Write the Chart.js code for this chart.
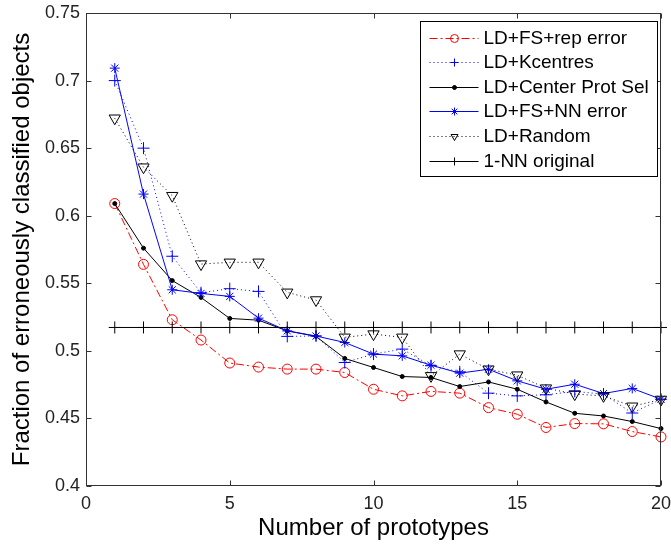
<!DOCTYPE html>
<html>
<head>
<meta charset="utf-8">
<script src="https://cdn.jsdelivr.net/npm/chart.js@4.4.1/dist/chart.umd.min.js"></script>
<style>
    html, body { margin: 0; padding: 0; background: #fff; }
    #wrap { width: 671px; height: 547px; }
</style>
</head>
<body>
<div id="wrap"><canvas id="protoChart"></canvas></div>
<script>
// number of prototypes on the x axis
const prototypes = [1, 2, 3, 4, 5, 6, 7, 8, 9, 10, 11, 12, 13, 14, 15, 16, 17, 18, 19, 20];

const repError   = [0.609, 0.564, 0.523, 0.508, 0.491, 0.488, 0.4865, 0.4865, 0.484, 0.4716,
                    0.4667, 0.470, 0.4687, 0.458, 0.4531, 0.4433, 0.4462, 0.446, 0.4403, 0.4363];
const kcentres   = [0.700, 0.650, 0.570, 0.543, 0.546, 0.544, 0.5107, 0.511, 0.4914, 0.4976,
                    0.5013, 0.489, 0.4845, 0.4687, 0.4667, 0.4675, 0.470, 0.468, 0.454, 0.4642];
const centerProt = [0.609, 0.576, 0.552, 0.5395, 0.524, 0.5227, 0.5148, 0.5107, 0.4944, 0.4877,
                    0.481, 0.4803, 0.4736, 0.477, 0.4716, 0.4622, 0.4538, 0.4518, 0.4477, 0.4425];
const fsNNError  = [0.7092, 0.616, 0.5452, 0.5425, 0.5403, 0.5242, 0.5148, 0.511, 0.5062, 0.4976,
                    0.4963, 0.4894, 0.4835, 0.4864, 0.4778, 0.4716, 0.4753, 0.4684, 0.4722, 0.4642];
const randomSel  = [0.6721, 0.6359, 0.6148, 0.5642, 0.5655, 0.5655, 0.5433, 0.5376, 0.51, 0.5124,
                    0.51, 0.4815, 0.4976, 0.4864, 0.482, 0.4724, 0.468, 0.4667, 0.459, 0.464];
const nnOriginal = [0.5173, 0.5173, 0.5173, 0.5173, 0.5173, 0.5173, 0.5173, 0.5173, 0.5173, 0.5173,
                    0.5173, 0.5173, 0.5173, 0.5173, 0.5173, 0.5173, 0.5173, 0.5173, 0.5173, 0.5173];

const xTicks = [0, 5, 10, 15, 20];
const yTicks = [0.4, 0.45, 0.5, 0.55, 0.6, 0.65, 0.7, 0.75];

const FONT = "'Liberation Sans', Arial, sans-serif";
Chart.defaults.font.family = FONT;

function series(values) {
    return prototypes.map((p, i) => ({ x: p, y: values[i] }));
}

function makeSet(label, values, color, dash, style, radius, fill, rotation) {
    return {
        label: label,
        data: series(values),
        borderColor: color,
        borderWidth: 1,
        borderDash: dash,
        pointStyle: style,
        pointRadius: radius,
        pointRotation: rotation || 0,
        pointBorderColor: color,
        pointBackgroundColor: fill,
        pointBorderWidth: 1,
        tension: 0,
        clip: false
    };
}

const datasets = [
    makeSet('LD+FS+rep error', repError, '#ff0000', [8, 3, 2, 3], 'circle', 5, 'rgba(0,0,0,0)'),
    makeSet('LD+Kcentres', kcentres, '#0000ff', [1, 3], 'cross', 6, 'rgba(0,0,0,0)'),
    makeSet('LD+Center Prot Sel', centerProt, '#000000', [], 'circle', 2, '#000000'),
    makeSet('LD+FS+NN error', fsNNError, '#0000ff', [], 'star', 5, 'rgba(0,0,0,0)'),
    makeSet('LD+Random', randomSel, '#000000', [1, 3], 'triangle', 6.5, 'rgba(0,0,0,0)', 180),
    makeSet('1-NN original', nnOriginal, '#000000', [], 'cross', 6, 'rgba(0,0,0,0)')
];
// later series on top, like the original
datasets.forEach((d, i) => { d.order = datasets.length - i; });

// matlab style box with inward ticks on all four sides
const boxAxes = {
    id: 'boxAxes',
    afterDatasetsDraw(chart) {
        const { ctx, chartArea: a, scales: { x, y } } = chart;
        const L = Math.round(a.left) + 0.5, R = Math.round(a.right) - 0.5;
        const T = Math.round(a.top) + 0.5, B = Math.round(a.bottom) - 0.5;
        const len = 5;
        ctx.save();
        ctx.strokeStyle = '#333';
        ctx.lineWidth = 1;
        ctx.setLineDash([]);
        ctx.strokeRect(L, T, R - L, B - T);
        ctx.beginPath();
        xTicks.forEach(v => {
            const px = Math.round(x.getPixelForValue(v)) + 0.5;
            ctx.moveTo(px, B); ctx.lineTo(px, B - len);
            ctx.moveTo(px, T); ctx.lineTo(px, T + len);
        });
        yTicks.forEach(v => {
            const py = Math.round(y.getPixelForValue(v)) + 0.5;
            ctx.moveTo(L, py); ctx.lineTo(L + len, py);
            ctx.moveTo(R, py); ctx.lineTo(R - len, py);
        });
        ctx.stroke();
        ctx.restore();
    }
};

// legend box inside the plot, top right
const boxLegend = {
    id: 'boxLegend',
    afterDraw(chart) {
        const { ctx, chartArea: a } = chart;
        const w = 237, h = 155, rowH = 24.6;
        const left = Math.round(a.right - w - 4) + 0.5;
        const top = Math.round(a.top + 8) + 0.5;
        ctx.save();
        ctx.fillStyle = '#fff';
        ctx.fillRect(left, top, w, h);
        ctx.strokeStyle = '#000';
        ctx.lineWidth = 1;
        ctx.strokeRect(left, top, w, h);
        ctx.font = '19px ' + FONT;
        ctx.textBaseline = 'middle';
        chart.data.datasets.forEach((d, i) => {
            const cy = Math.round(top + 16 + i * rowH) + 0.5;
            ctx.strokeStyle = d.borderColor;
            ctx.lineWidth = 1;
            ctx.setLineDash(d.borderDash);
            ctx.beginPath();
            ctx.moveTo(left + 9, cy);
            ctx.lineTo(left + 58, cy);
            ctx.stroke();
            ctx.setLineDash([]);
            ctx.fillStyle = d.pointBackgroundColor;
            ctx.strokeStyle = d.pointBorderColor;
            Chart.helpers.drawPoint(ctx, {
                pointStyle: d.pointStyle,
                radius: Math.min(d.pointRadius, 4),
                rotation: d.pointRotation,
                borderWidth: 1
            }, left + 34, cy);
            ctx.fillStyle = '#000';
            ctx.fillText(d.label, left + 63, cy);
        });
        ctx.restore();
    }
};

const tickFont = { size: 18, family: FONT };

new Chart(document.getElementById('protoChart').getContext('2d'), {
    type: 'line',
    data: { datasets: datasets },
    options: {
        responsive: true,
        maintainAspectRatio: false,
        animation: false,
        layout: { padding: { top: 13, right: 10, left: 0, bottom: 0 } },
        plugins: {
            legend: { display: false },
            tooltip: { enabled: false }
        },
        scales: {
            x: {
                type: 'linear',
                min: 0,
                max: 20,
                afterBuildTicks(s) { s.ticks = xTicks.map(v => ({ value: v })); },
                ticks: { font: tickFont, color: '#222', padding: 7, maxRotation: 0 },
                grid: { display: false, drawTicks: false },
                border: { display: false },
                title: {
                    display: true,
                    text: 'Number of prototypes',
                    font: { size: 24, family: FONT },
                    color: '#000',
                    padding: { top: 0, bottom: 4 }
                },
                afterFit(s) {
                    s.height = 61;
                    s.paddingLeft = 0;
                    s.paddingRight = 0;
                }
            },
            y: {
                type: 'linear',
                min: 0.4,
                max: 0.75,
                afterBuildTicks(s) { s.ticks = yTicks.map(v => ({ value: v })); },
                ticks: {
                    font: tickFont,
                    color: '#222',
                    padding: 6,
                    callback: v => String(Math.round(v * 100) / 100)
                },
                grid: { display: false, drawTicks: false },
                border: { display: false },
                title: {
                    display: true,
                    text: 'Fraction of erroneously classified objects',
                    font: { size: 24, family: FONT },
                    color: '#000',
                    padding: { top: 8, bottom: 0 }
                },
                afterFit(s) {
                    s.width = 86;
                    s.paddingTop = 0;
                    s.paddingBottom = 0;
                }
            }
        }
    },
    plugins: [boxAxes, boxLegend]
});
</script>
</body>
</html>
